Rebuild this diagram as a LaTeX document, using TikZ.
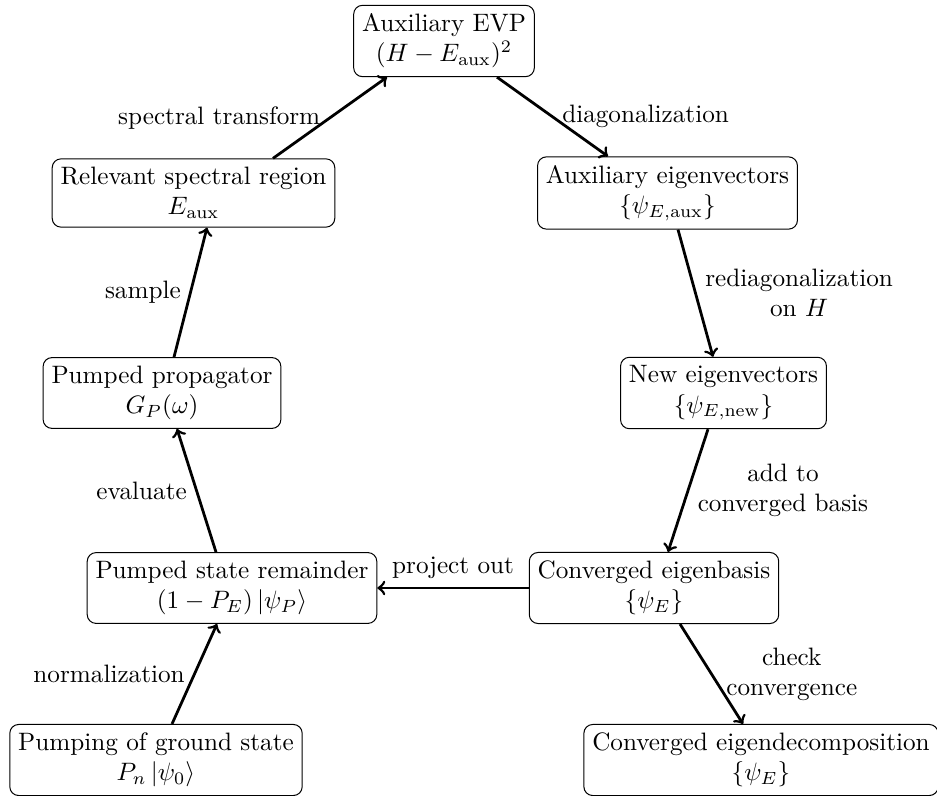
\documentclass[tikz,border=0pt]{standalone}
\usetikzlibrary{calc}
\begin{document}
\begin{tikzpicture}[
  x=0.397pt, y=-0.397pt,
  stage/.style={draw, rounded corners=3.5pt, align=center, inner sep=3.33pt, line width=0.4pt},
  flow/.style={->, line width=1.1pt},
  lbl/.style={align=center}
]
\useasboundingbox (0,0) rectangle (937,796);

% stages of the procedure
\node[stage] (evp)    at (444,41)   {Auxiliary EVP\\$(H-E_{\mathrm{aux}})^2$};
\node[stage] (rel)    at (193.5,193) {Relevant spectral region\\$E_{\mathrm{aux}}$};
\node[stage] (auxvec) at (667.5,193) {Auxiliary eigenvectors\\$\{\psi_{E,\mathrm{aux}}\}$};
\node[stage] (prop)   at (162,393)  {Pumped propagator\\$G_P(\omega)$};
\node[stage] (newvec) at (723.5,393) {New eigenvectors\\$\{\psi_{E,\mathrm{new}}\}$};
\node[stage] (rem)    at (232,588)  {Pumped state remainder\\$(1-P_E)\left|\psi_P\right\rangle$};
\node[stage] (basis)  at (654,588)  {Converged eigenbasis\\$\{\psi_E\}$};
\node[stage] (pump)   at (156,760)  {Pumping of ground state\\$P_n\left|\psi_0\right\rangle$};
\node[stage] (decomp) at (761,760)  {Converged eigendecomposition\\$\{\psi_E\}$};

% transitions
\draw[flow] ($(rel.north)+(79.5,0)$) -- node[midway,left,lbl] {spectral transform} ($(evp.south)+(-57,0)$);
\draw[flow] ($(evp.south)+(53,0)$) -- node[midway,right,lbl] {diagonalization} ($(auxvec.north)+(-59.5,0)$);
\draw[flow] ($(auxvec.south)+(10.5,0)$) -- node[midway,right,lbl] {rediagonalization\\on $H$} ($(newvec.north)+(-10.5,0)$);
\draw[flow] ($(newvec.south)+(-15.5,0)$) -- node[midway,right,lbl] {add to\\converged basis} ($(basis.north)+(14,0)$);
\draw[flow] ($(basis.south)+(26,0)$) -- node[midway,right,lbl,xshift=2pt] {check\\convergence} ($(decomp.north)+(-18,0)$);
\draw[flow] (basis.west) -- node[midway,above,lbl] {project out} (rem.east);
\draw[flow] ($(pump.north)+(16,0)$) -- node[midway,left,lbl] {normalization} ($(rem.south)+(-15,0)$);
\draw[flow] ($(rem.north)+(-16,0)$) -- node[midway,left,lbl] {evaluate} ($(prop.south)+(15,0)$);
\draw[flow] ($(prop.north)+(12,0)$) -- node[midway,left,lbl] {sample} ($(rel.south)+(13.5,0)$);
\end{tikzpicture}
\end{document}
